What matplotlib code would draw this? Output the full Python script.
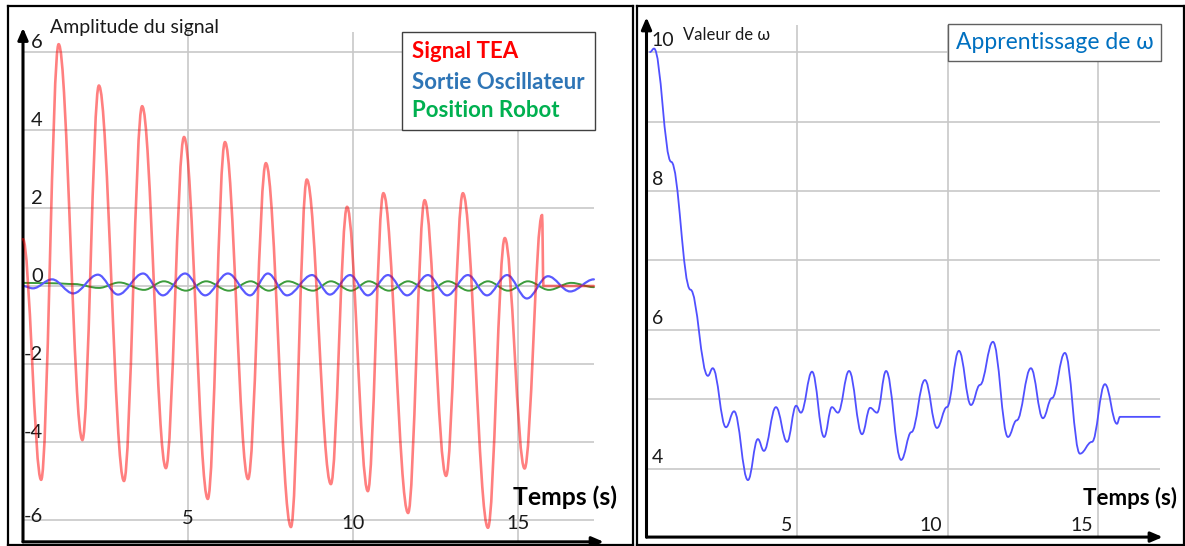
import numpy as np
import matplotlib.pyplot as plt
from matplotlib.path import Path
from matplotlib.patches import PathPatch, Rectangle

plt.rcParams['font.family'] = ['Lato', 'DejaVu Sans']

tea_t = [0.0, 0.55, 1.08, 1.8, 2.30, 3.06, 3.61, 4.33, 4.88, 5.6, 6.12, 6.82, 7.36, 8.12,
         8.6, 9.33, 9.82, 10.45, 10.92, 11.67, 12.17, 12.82, 13.33, 14.09, 14.6, 15.2,
         15.73, 15.77, 17.3]
tea_v = [1.2, -4.97, 6.2, -3.95, 5.14, -5.0, 4.61, -4.67, 3.82, -5.46, 3.69, -4.95, 3.15, -6.18,
         2.73, -5.08, 2.03, -5.26, 2.38, -5.82, 2.2, -4.87, 2.38, -6.2, 1.23, -4.68,
         1.82, 0.0, 0.0]

# Sortie Oscillateur (bleu)
osc_t = [0.0, 0.3, 0.88, 1.52, 2.27, 2.88, 3.64, 4.24, 4.91, 5.52, 6.21, 6.88, 7.42, 8.0,
         8.76, 9.3, 9.91, 10.45, 11.06, 11.64, 12.27, 12.85, 13.48, 14.06, 14.67, 15.27,
         15.91, 16.58, 17.3]
osc_v = [0.0, -0.06, 0.17, -0.19, 0.29, -0.22, 0.32, -0.24, 0.32, -0.24, 0.32, -0.24, 0.32, -0.24,
         0.28, -0.22, 0.28, -0.24, 0.28, -0.24, 0.28, -0.24, 0.28, -0.24, 0.28, -0.32,
         0.25, -0.14, 0.17]

# Position Robot (vert)
rob_t = [0.0, 0.9, 1.55, 2.3, 2.92, 3.67, 4.27, 4.94, 5.55, 6.24, 6.9, 7.45, 8.03, 8.79,
         9.33, 9.94, 10.48, 11.09, 11.67, 12.3, 12.88, 13.51, 14.09, 14.7, 15.3, 15.94,
         16.61, 17.3]
rob_v = [0.08, 0.07, 0.05, -0.05, 0.09, -0.1, 0.12, -0.12, 0.12, -0.12, 0.12, -0.12, 0.12, -0.12,
         0.12, -0.12, 0.12, -0.12, 0.12, -0.12, 0.12, -0.12, 0.12, -0.12, 0.12, -0.1,
         0.08, -0.03]

# Apprentissage de omega : extremums et paliers
omega_t = [0.12, 0.25, 0.82, 1.46, 2.04, 2.2, 2.64, 2.91, 3.37, 3.7, 3.9, 4.3, 4.67, 4.97,
           5.13, 5.5, 5.9, 6.16, 6.36, 6.73, 7.16, 7.43, 7.66, 7.96, 8.46, 8.8, 9.25, 9.65,
           9.98, 10.38, 10.78, 11.08, 11.51, 12.01, 12.3, 12.77, 13.17, 13.47, 13.9, 14.4,
           14.8, 15.23, 15.63, 15.73, 17.05]
omega_v = [10.0, 10.05, 8.42, 6.58, 5.34, 5.45, 4.60, 4.83, 3.84, 4.43, 4.26, 4.89, 4.39, 4.91,
           4.81, 5.40, 4.46, 4.89, 4.81, 5.41, 4.50, 4.88, 4.81, 5.41, 4.13, 4.53, 5.28, 4.59,
           4.89, 5.70, 4.92, 5.21, 5.83, 4.46, 4.70, 5.45, 4.73, 5.02, 5.67, 4.22,
           4.39, 5.22, 4.65, 4.75, 4.75]

amp_ticks = [-6, -4, -2, 0, 2, 4, 6]
omega_ticks = [4, 6, 8, 10]
temps_ticks = [5, 10, 15]


def courbe_lisse(ax, t, v, couleur, lw, alpha=1.0, k=0.36, z=3):
    # trace lisse (bezier) passant par les points lus, tangente horizontale aux extremums
    verts = [(t[0], v[0])]
    codes = [Path.MOVETO]
    for i in range(len(t) - 1):
        dt = t[i + 1] - t[i]
        verts += [(t[i] + k * dt, v[i]), (t[i + 1] - k * dt, v[i + 1]), (t[i + 1], v[i + 1])]
        codes += [Path.CURVE4] * 3
    patch = PathPatch(Path(verts, codes), fill=False, edgecolor=couleur, lw=lw,
                      alpha=alpha, zorder=z, capstyle='round', joinstyle='round')
    ax.add_patch(patch)


def fleche(ax, depart, arrivee):
    ax.annotate('', xy=arrivee, xytext=depart, annotation_clip=False,
                arrowprops=dict(arrowstyle='-|>,head_length=0.7,head_width=0.3',
                                color='black', lw=2.2, shrinkA=0, shrinkB=0))


def cadre(ax):
    ax.set_xticks([])
    ax.set_yticks([])
    for s in ax.spines.values():
        s.set_linewidth(1.6)
        s.set_color('black')


def main():
    W, H = 1185, 546
    fig = plt.figure(figsize=(W / 100, H / 100), dpi=100)

    # Panneau gauche : amplitude du signal
    ax1 = fig.add_axes([8 / W, 1 - 545 / H, (633 - 8) / W, (545 - 6) / H])
    ax1.set_xlim(-0.4545, 18.485)
    ax1.set_ylim(-6.641, 7.179)
    cadre(ax1)

    ax1.hlines(amp_ticks, 0, 17.3, color='#c8c8c8', lw=1.2, zorder=1)
    ax1.vlines(temps_ticks, -6.56, 6.5, color='#c8c8c8', lw=1.2, zorder=1)

    courbe_lisse(ax1, rob_t, rob_v, '#3c9c3c', 1.4, z=3)
    courbe_lisse(ax1, osc_t, osc_v, '#5a5aff', 1.6, z=3)
    courbe_lisse(ax1, tea_t, tea_v, '#ff0000', 1.9, alpha=0.5, z=4)

    fleche(ax1, (0, -6.56), (0, 6.62))
    fleche(ax1, (0, -6.56), (17.6, -6.56))

    for val in amp_ticks:
        dy = 0.08 if val == -6 else 0.24
        ax1.text(0.6, val + dy, str(val), ha='right', va='center', fontsize=14.5, color='#1a1a1a')
    for val in temps_ticks:
        y_lab = -5.97 if val == 5 else -6.1
        ax1.text(val, y_lab, str(val), ha='center', va='center', fontsize=14.5, color='#1a1a1a')

    ax1.text(0.82, 6.64, 'Amplitude du signal', ha='left', va='center', fontsize=14, color='#1a1a1a')
    ax1.text(14.85, -5.42, 'Temps (s)', ha='left', va='center', fontsize=17.8, fontweight='bold')

    # legende
    ax1.add_patch(Rectangle((11.48, 4.0), 17.33 - 11.48, 6.51 - 4.0, facecolor='white',
                            edgecolor='#404040', lw=1.0, zorder=6))
    ax1.text(11.79, 6.0, 'Signal TEA', color='#ff0000', fontsize=16, fontweight='bold', va='center', zorder=7)
    ax1.text(11.79, 5.23, 'Sortie Oscillateur', color='#2e75b6', fontsize=16, fontweight='bold', va='center', zorder=7)
    ax1.text(11.79, 4.51, 'Position Robot', color='#00b050', fontsize=16, fontweight='bold', va='center', zorder=7)

    # Panneau droit : apprentissage de omega
    ax2 = fig.add_axes([637 / W, 1 - 545 / H, (1184 - 637) / W, (545 - 6) / H])
    ax2.set_xlim(-0.3156, 17.857)
    ax2.set_ylim(2.906, 10.662)
    cadre(ax2)

    ax2.hlines(np.arange(4, 11), 0, 17.05, color='#c8c8c8', lw=1.2, zorder=1)
    ax2.vlines(temps_ticks, 3.02, 10.39, color='#c8c8c8', lw=1.2, zorder=1)

    courbe_lisse(ax2, omega_t, omega_v, '#5050ff', 1.3, k=0.4, z=3)

    fleche(ax2, (0, 3.02), (0, 10.5))
    fleche(ax2, (0, 3.02), (17.15, 3.02))

    for val in omega_ticks:
        ax2.text(0.18, val + 0.17, str(val), ha='left', va='center', fontsize=14, color='#1a1a1a')
    for val in temps_ticks:
        ax2.text(val - 0.17, 3.19, str(val), ha='right', va='center', fontsize=14, color='#1a1a1a')

    ax2.text(1.21, 10.245, 'Valeur de ω', ha='left', va='center', fontsize=12, color='#1a1a1a')
    ax2.text(14.5, 3.58, 'Temps (s)', ha='left', va='center', fontsize=16, fontweight='bold')

    ax2.add_patch(Rectangle((10.02, 9.87), 17.09 - 10.02, 10.40 - 9.87, facecolor='white',
                            edgecolor='#606060', lw=1.0, zorder=6))
    ax2.text(13.55, 10.13, 'Apprentissage de ω', ha='center', va='center', fontsize=16.5,
             color='#0070c0', zorder=7)

    fig.savefig('out.png', dpi=100)


if __name__ == "__main__":
    main()
